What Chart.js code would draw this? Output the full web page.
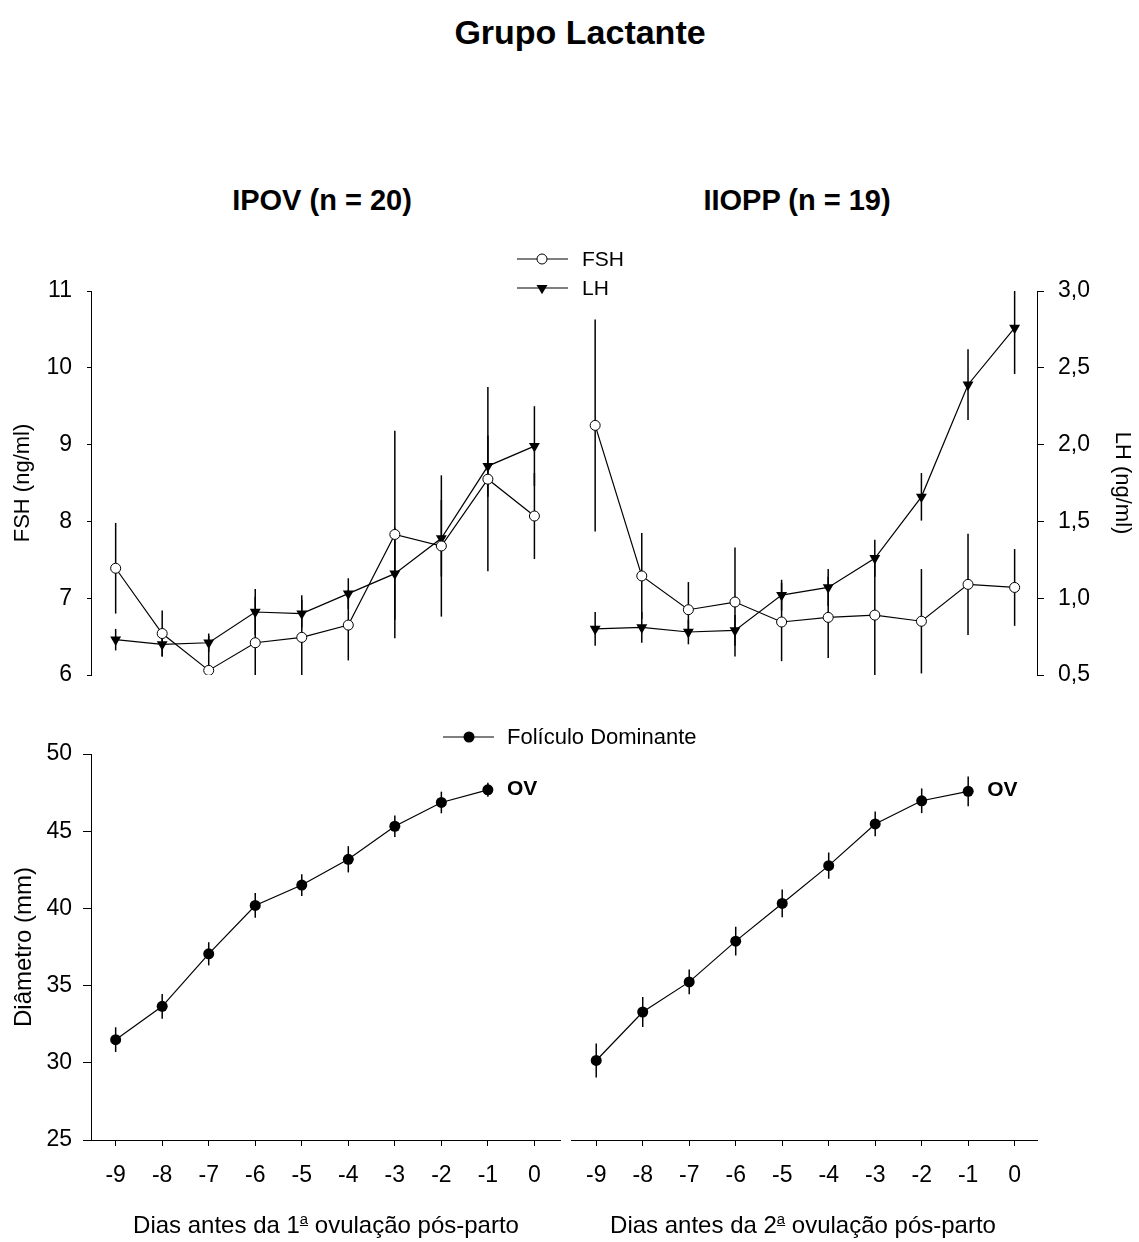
<!DOCTYPE html>
<html lang="pt">
<head>
<meta charset="utf-8">
<title>Grupo Lactante</title>
<script src="https://cdn.jsdelivr.net/npm/chart.js@4.4.1/dist/chart.umd.min.js"></script>
<style>
  body { margin: 0; background: #fff; color: #000; font-family: "Liberation Sans", Arial, sans-serif; }
  #page { position: relative; width: 1139px; height: 1242px; overflow: hidden; }
  .panel { position: absolute; }
  .txt { position: absolute; white-space: nowrap; transform: translate(-50%, -50%); }
  .leg { position: absolute; white-space: nowrap; transform: translateY(-50%); font-size: 21px; }
  .ord { font-size: 0.62em; vertical-align: 0.6em; text-decoration: underline; }
  svg { position: absolute; left: 0; top: 0; }
</style>
</head>
<body>
<div id="page">
  <div class="txt" style="left:580px; top:32px; font-size:34px; font-weight:bold;">Grupo Lactante</div>
  <div class="txt" style="left:322px; top:200px; font-size:29px; font-weight:bold;">IPOV (n = 20)</div>
  <div class="txt" style="left:797px; top:200px; font-size:29px; font-weight:bold;">IIOPP (n = 19)</div>

  <div class="panel" style="left:0; top:261px;"><canvas id="ipovHormones" width="570" height="444"></canvas></div>
  <div class="panel" style="left:570px; top:261px;"><canvas id="iioppHormones" width="569" height="444"></canvas></div>
  <div class="panel" style="left:0; top:729px;"><canvas id="ipovFollicle" width="570" height="513"></canvas></div>
  <div class="panel" style="left:570px; top:729px;"><canvas id="iioppFollicle" width="569" height="513"></canvas></div>

  <!-- símbolos das legendas -->
  <svg width="1139" height="1242">
    <line x1="517" y1="259" x2="568" y2="259" stroke="#000" stroke-width="1.2"/>
    <circle cx="542" cy="259" r="5" fill="#fff" stroke="#000" stroke-width="1"/>
    <line x1="517" y1="288" x2="568" y2="288" stroke="#000" stroke-width="1.2"/>
    <polygon points="536.5,284.9 547.5,284.9 542,294.3" fill="#000"/>
    <line x1="443" y1="737" x2="494" y2="737" stroke="#000" stroke-width="1.2"/>
    <circle cx="469" cy="737" r="5.5" fill="#000"/>
  </svg>
  <div class="leg" style="left:582px; top:259px;">FSH</div>
  <div class="leg" style="left:582px; top:288px;">LH</div>
  <div class="leg" style="left:507px; top:737px; font-size:22px;">Folículo Dominante</div>

  <div class="txt" style="left:326px; top:1225px; font-size:24px;">Dias antes da 1<span class="ord">a</span> ovulação pós-parto</div>
  <div class="txt" style="left:803px; top:1225px; font-size:24px;">Dias antes da 2<span class="ord">a</span> ovulação pós-parto</div>
</div>

<script>
// dias antes da ovulação
const days = [-9, -8, -7, -6, -5, -4, -3, -2, -1, 0];
const follicleDays = [-9, -8, -7, -6, -5, -4, -3, -2, -1];

// ticks dos eixos
const fshTicks = [6, 7, 8, 9, 10, 11];
const lhTicks = [0.5, 1.0, 1.5, 2.0, 2.5, 3.0];
const diamTicks = [25, 30, 35, 40, 45, 50];

// IPOV (n = 20)
const ipovFsh = [7.39, 6.54, 6.06, 6.42, 6.49, 6.65, 7.83, 7.68, 8.55, 8.07];
const ipovFshErr = [0.59, 0.30, 0.45, 0.60, 0.55, 0.46, 1.35, 0.92, 1.20, 0.56];
const ipovLh = [0.73, 0.70, 0.71, 0.91, 0.90, 1.03, 1.16, 1.39, 1.86, 1.99];
const ipovLhErr = [0.07, 0.08, 0.06, 0.15, 0.09, 0.10, 0.30, 0.25, 0.20, 0.26];
const ipovDiam = [31.5, 33.66, 37.06, 40.19, 41.51, 43.18, 45.32, 46.86, 47.68];
const ipovDiamErr = [0.8, 0.8, 0.75, 0.8, 0.7, 0.85, 0.7, 0.7, 0.45];

// IIOPP (n = 19)
const iioppFsh = [9.25, 7.29, 6.85, 6.95, 6.69, 6.75, 6.78, 6.70, 7.18, 7.14];
const iioppFshErr = [1.38, 0.56, 0.36, 0.71, 0.51, 0.53, 0.78, 0.68, 0.66, 0.50];
const iioppLh = [0.80, 0.81, 0.78, 0.79, 1.02, 1.07, 1.26, 1.66, 2.39, 2.76];
const iioppLhErr = [0.11, 0.10, 0.08, 0.10, 0.10, 0.12, 0.12, 0.155, 0.23, 0.30];
const iioppDiam = [30.15, 33.29, 35.24, 37.88, 40.32, 42.77, 45.47, 46.97, 47.58];
const iioppDiamErr = [1.1, 0.97, 0.8, 0.93, 0.9, 0.85, 0.8, 0.8, 0.97];

Chart.defaults.font.family = '"Liberation Sans", Arial, sans-serif';
Chart.defaults.color = '#000';

const pts = (xs, ys) => xs.map((x, i) => ({ x: x, y: ys[i] }));
const fixedTicks = values => scale => { scale.ticks = values.map(v => ({ value: v })); };
const comma = v => Number(v).toFixed(1).replace('.', ',');

// barras de erro (EPM) desenhadas com as escalas do gráfico
const errorBars = {
    id: 'errorBars',
    beforeDatasetsDraw(chart) {
        const ctx = chart.ctx, a = chart.chartArea;
        ctx.save();
        ctx.beginPath();
        ctx.rect(a.left, a.top, a.right - a.left, a.bottom - a.top);
        ctx.clip();
        ctx.strokeStyle = '#000';
        ctx.lineWidth = 1.5;
        chart.data.datasets.forEach(ds => {
            if (!ds.errors) return;
            const xs = chart.scales.x, ys = chart.scales[ds.yAxisID || 'y'];
            ds.data.forEach((p, j) => {
                const px = xs.getPixelForValue(p.x);
                ctx.beginPath();
                ctx.moveTo(px, ys.getPixelForValue(p.y - ds.errors[j]));
                ctx.lineTo(px, ys.getPixelForValue(p.y + ds.errors[j]));
                ctx.stroke();
            });
        });
        ctx.restore();
    }
};

// rótulo "OV" ao lado do último ponto
const ovLabel = {
    id: 'ovLabel',
    afterDatasetsDraw(chart) {
        const meta = chart.getDatasetMeta(0);
        const last = meta.data[meta.data.length - 1];
        const ctx = chart.ctx;
        ctx.save();
        ctx.font = 'bold 21px "Liberation Sans", Arial, sans-serif';
        ctx.fillStyle = '#000';
        ctx.textAlign = 'left';
        ctx.textBaseline = 'middle';
        ctx.fillText('OV', last.x + 19, last.y - 1);
        ctx.restore();
    }
};

function xAxis(min, max, show) {
    return {
        type: 'linear', min: min, max: max, display: show,
        afterBuildTicks: fixedTicks(days),
        afterFit: s => { if (show) s.height = 102; },
        grid: { display: true, drawOnChartArea: false, tickLength: 6, color: '#000' },
        border: { display: true, color: '#000', width: 1 },
        ticks: { font: { size: 23 }, padding: 16, maxRotation: 0, autoSkip: false, callback: v => String(v) }
    };
}

function leftAxis(values, title, titleSize, tickLen, pad) {
    return {
        type: 'linear', position: 'left',
        min: values[0], max: values[values.length - 1],
        afterBuildTicks: fixedTicks(values),
        afterFit: s => { s.width = 91; },
        grid: { display: true, drawOnChartArea: false, tickLength: tickLen, color: '#000' },
        border: { display: true, color: '#000', width: 1 },
        ticks: { font: { size: 23 }, padding: pad },
        title: { display: true, text: title, font: { size: titleSize }, padding: { top: 10, bottom: 10 } }
    };
}

function hiddenAxis(values, position) {
    return { type: 'linear', position: position, display: false, min: values[0], max: values[values.length - 1] };
}

function lhRightAxis() {
    return {
        type: 'linear', position: 'right',
        min: lhTicks[0], max: lhTicks[lhTicks.length - 1],
        afterBuildTicks: fixedTicks(lhTicks),
        afterFit: s => { s.width = 102; },
        grid: { display: true, drawOnChartArea: false, tickLength: 7, color: '#000' },
        border: { display: true, color: '#000', width: 1 },
        ticks: { font: { size: 23 }, padding: 14, callback: comma },
        title: { display: true, text: 'LH (ng/ml)', font: { size: 22 }, padding: { top: 4, bottom: 4 } }
    };
}

function fshSet(values, errors) {
    return {
        label: 'FSH', data: pts(days, values), errors: errors, yAxisID: 'y',
        borderColor: '#000', borderWidth: 1.2, showLine: true,
        pointStyle: 'circle', pointRadius: 5, pointBackgroundColor: '#fff', pointBorderColor: '#000', pointBorderWidth: 1
    };
}

function lhSet(values, errors) {
    return {
        label: 'LH', data: pts(days, values), errors: errors, yAxisID: 'y1',
        borderColor: '#000', borderWidth: 1.2, showLine: true,
        pointStyle: 'triangle', pointRotation: 180, pointRadius: 6.3,
        pointBackgroundColor: '#000', pointBorderColor: '#000', pointBorderWidth: 0
    };
}

function follicleSet(values, errors) {
    return {
        label: 'Folículo Dominante', data: pts(follicleDays, values), errors: errors, yAxisID: 'y',
        borderColor: '#000', borderWidth: 1.2, showLine: true,
        pointStyle: 'circle', pointRadius: 5.5, pointBackgroundColor: '#000', pointBorderColor: '#000', pointBorderWidth: 0
    };
}

const common = {
    responsive: false,
    animation: false,
    devicePixelRatio: 1,
    plugins: { legend: { display: false }, tooltip: { enabled: false } }
};

function layout(right, top, bottom) {
    return { autoPadding: false, padding: { left: 0, right: right, top: top, bottom: bottom } };
}

new Chart(document.getElementById('ipovHormones'), {
    type: 'scatter',
    data: { datasets: [fshSet(ipovFsh, ipovFshErr), lhSet(ipovLh, ipovLhErr)] },
    options: Object.assign({}, common, {
        layout: layout(10, 30, 30),
        scales: {
            x: xAxis(-9.53, 0.55, false),
            y: leftAxis(fshTicks, 'FSH (ng/ml)', 22, 4, 15),
            y1: hiddenAxis(lhTicks, 'right')
        }
    }),
    plugins: [errorBars]
});

new Chart(document.getElementById('iioppHormones'), {
    type: 'scatter',
    data: { datasets: [fshSet(iioppFsh, iioppFshErr), lhSet(iioppLh, iioppLhErr)] },
    options: Object.assign({}, common, {
        layout: layout(0, 30, 30),
        scales: {
            x: xAxis(-9.54, 0.48, false),
            y: hiddenAxis(fshTicks, 'left'),
            y1: lhRightAxis()
        }
    }),
    plugins: [errorBars]
});

new Chart(document.getElementById('ipovFollicle'), {
    type: 'scatter',
    data: { datasets: [follicleSet(ipovDiam, ipovDiamErr)] },
    options: Object.assign({}, common, {
        layout: layout(10, 25, 0),
        scales: {
            x: xAxis(-9.53, 0.55, true),
            y: leftAxis(diamTicks, 'Diâmetro (mm)', 24, 8, 11)
        }
    }),
    plugins: [errorBars, ovLabel]
});

new Chart(document.getElementById('iioppFollicle'), {
    type: 'scatter',
    data: { datasets: [follicleSet(iioppDiam, iioppDiamErr)] },
    options: Object.assign({}, common, {
        layout: layout(102, 25, 0),
        scales: {
            x: xAxis(-9.54, 0.48, true),
            y: hiddenAxis(diamTicks, 'left')
        }
    }),
    plugins: [errorBars, ovLabel]
});
</script>
</body>
</html>
